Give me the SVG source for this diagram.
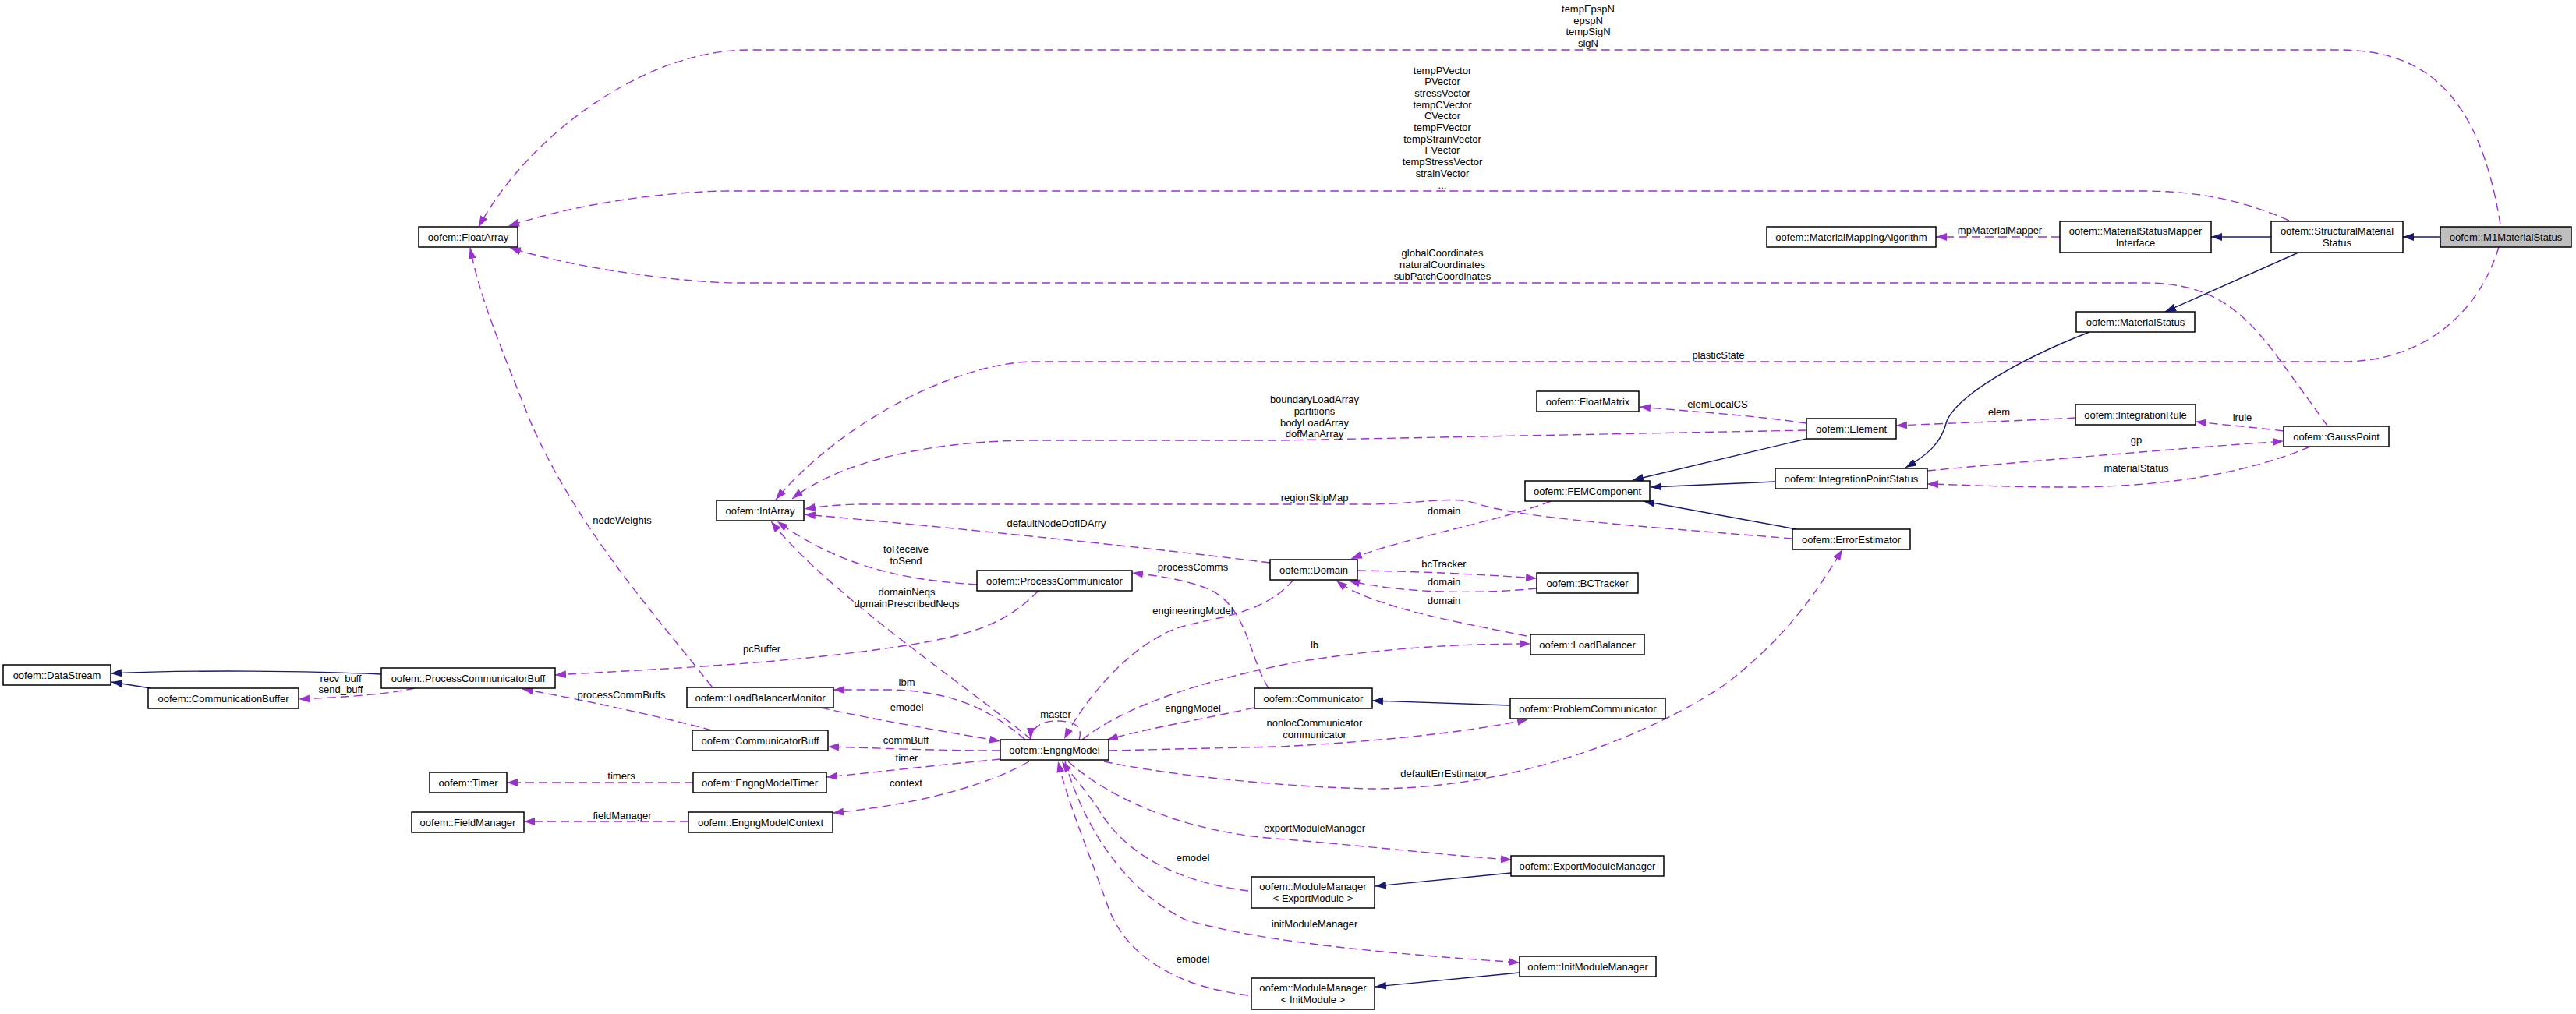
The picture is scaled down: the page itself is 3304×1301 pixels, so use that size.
<svg xmlns="http://www.w3.org/2000/svg" width="3304" height="1301" viewBox="0 0 3304 1301">
<style>
.n rect{fill:#fff;stroke:#000;stroke-width:1.5}
.n rect.main{fill:#bfbfbf}
text{font-family:"Liberation Sans",Arial,sans-serif;font-size:13px;fill:#000;text-anchor:middle}
.e{fill:none;stroke:#9a32cd;stroke-width:1.4;stroke-dasharray:11,6;marker-end:url(#ap)}
.i{fill:none;stroke:#191970;stroke-width:1.4;marker-end:url(#ab)}
</style>
<defs>
<marker id="ap" viewBox="0 0 14 10" refX="14" refY="5" markerWidth="14" markerHeight="10" orient="auto" markerUnits="userSpaceOnUse"><path d="M0,0 L14,5 L0,10 z" fill="#9a32cd"/></marker>
<marker id="ab" viewBox="0 0 14 10" refX="14" refY="5" markerWidth="14" markerHeight="10" orient="auto" markerUnits="userSpaceOnUse"><path d="M0,0 L14,5 L0,10 z" fill="#191970"/></marker>
</defs>
<rect width="3304" height="1301" fill="#fff"/>
<g id="connectors">
<path class="e" d="M3207,288 C3180,120 3110,64 3000,64 L960,64 C830,64 680,170 614,291"/>
<text x="2037" y="16">tempEpspN</text><text x="2037" y="31">epspN</text><text x="2037" y="45">tempSigN</text><text x="2037" y="60">sigN</text>
<path class="e" d="M2936,283 C2880,258 2820,245 2750,245 L935,245 C880,245 760,255 652,290"/>
<text x="1850" y="95">tempPVector</text><text x="1850" y="109">PVector</text><text x="1850" y="124">stressVector</text><text x="1850" y="139">tempCVector</text><text x="1850" y="153">CVector</text><text x="1850" y="168">tempFVector</text><text x="1850" y="183">tempStrainVector</text><text x="1850" y="197">FVector</text><text x="1850" y="212">tempStressVector</text><text x="1850" y="227">strainVector</text><text x="1850" y="242">...</text>
<path class="e" d="M2985,546 L2930,470 C2880,400 2840,363 2750,363 L947,363 C880,363 740,345 654,318"/>
<text x="1850" y="329">globalCoordinates</text><text x="1850" y="344">naturalCoordinates</text><text x="1850" y="359">subPatchCoordinates</text>
<path class="e" d="M913,881 C850,800 740,680 680,540 C640,440 615,380 603,318"/>
<text x="798" y="672">nodeWeights</text>
<path class="e" d="M2642,304 L2483,304"/>
<text x="2565" y="300">mpMaterialMapper</text>
<path class="e" d="M3205,317 C3180,400 3110,464 3005,464 L1328,464 C1230,464 1080,540 995,641"/>
<text x="2204" y="460">plasticState</text>
<path class="e" d="M2317,552 L1640,565 L1328,565 C1200,565 1080,590 1016,640"/>
<text x="1686" y="517">boundaryLoadArray</text><text x="1686" y="532">partitions</text><text x="1686" y="547">bodyLoadArray</text><text x="1686" y="561">dofManArray</text>
<path class="e" d="M2299,691 C2100,675 1950,665 1890,645 C1860,636 1820,647 1750,647 L1100,647 C1070,648 1050,650 1032,653"/>
<text x="1686" y="643">regionSkipMap</text>
<path class="e" d="M1629,722 C1450,700 1200,675 1032,660"/>
<text x="1355" y="676">defaultNodeDofIDArry</text>
<path class="e" d="M1253,750 C1170,745 1080,730 997,669"/>
<text x="1162" y="709">toReceive</text><text x="1162" y="724">toSend</text>
<path class="e" d="M1323,949 C1240,880 1060,760 989,669"/>
<text x="1163" y="764">domainNeqs</text><text x="1163" y="779">domainPrescribedNeqs</text>
<path class="e" d="M1627,883 C1600,840 1600,770 1540,752 C1510,742 1480,738 1452,735"/>
<text x="1530" y="732">processComms</text>
<path class="e" d="M1659,744 C1610,800 1530,790 1490,815 C1440,840 1390,900 1365,948"/>
<text x="1530" y="788">engineeringModel</text>
<path class="e" d="M1332,758 C1290,800 1250,815 1150,830 C1000,852 850,858 712,866"/>
<text x="977" y="837">pcBuffer</text>
<path class="e" d="M532,883 C490,892 430,895 383,897"/>
<text x="437" y="875">recv_buff</text><text x="437" y="889">send_buff</text>
<path class="e" d="M913,937 C870,925 760,900 670,884"/>
<text x="797" y="896">processCommBuffs</text>
<path class="e" d="M1315,949 C1270,910 1220,886 1140,885 L1069,885"/>
<text x="1163" y="880">lbm</text>
<path class="e" d="M1053,908 C1130,925 1220,940 1283,951"/>
<text x="1163" y="912">emodel</text>
<path class="e" d="M1283,963 C1200,963 1130,960 1062,958"/>
<text x="1162" y="954">commBuff</text>
<path class="e" d="M1283,974 C1200,982 1130,990 1060,997"/>
<text x="1163" y="977">timer</text>
<path class="e" d="M1320,977 C1280,1000 1200,1030 1068,1043"/>
<text x="1162" y="1009">context</text>
<path class="e" d="M889,1004 L650,1004"/>
<text x="797" y="1000">timers</text>
<path class="e" d="M883,1054 L672,1054"/>
<text x="798" y="1051">fieldManager</text>
<path class="e" d="M1384,949 C1390,930 1375,925 1354,925 C1335,925 1322,935 1322,948"/>
<text x="1354" y="921">master</text>
<path class="e" d="M1388,949 C1450,900 1560,870 1660,850 C1780,830 1880,826 1963,826"/>
<text x="1686" y="832">lb</text>
<path class="e" d="M1609,908 C1530,925 1470,935 1420,949"/>
<text x="1530" y="913">engngModel</text>
<path class="e" d="M1422,963 L1640,958 C1760,952 1880,940 1960,923"/>
<text x="1686" y="932">nonlocCommunicator</text><text x="1686" y="947">communicator</text>
<path class="e" d="M1416,977 C1500,995 1650,1010 1760,1012 C1950,1012 2120,940 2210,880 C2290,820 2330,760 2363,705"/>
<text x="1852" y="997">defaultErrEstimator</text>
<path class="e" d="M1370,977 C1430,1030 1530,1070 1650,1077 C1780,1088 1880,1100 1939,1103"/>
<text x="1686" y="1067">exportModuleManager</text>
<path class="e" d="M1601,1143 C1500,1130 1440,1090 1410,1040 C1390,1010 1375,995 1362,977"/>
<text x="1530" y="1105">emodel</text>
<path class="e" d="M1366,977 C1390,1060 1440,1140 1520,1180 C1620,1210 1800,1225 1949,1235"/>
<text x="1686" y="1190">initModuleManager</text>
<path class="e" d="M1601,1277 C1500,1265 1440,1220 1420,1160 C1395,1090 1370,1030 1357,977"/>
<text x="1530" y="1235">emodel</text>
<path class="e" d="M2317,543 C2250,533 2170,528 2103,522"/>
<text x="2203" y="523">elemLocalCS</text>
<path class="e" d="M2662,536 C2590,540 2500,543 2432,546"/>
<text x="2564" y="533">elem</text>
<path class="e" d="M2929,553 C2890,548 2850,545 2816,541"/>
<text x="2876" y="540">irule</text>
<path class="e" d="M2472,604 C2620,590 2800,575 2929,566"/>
<text x="2740" y="569">gp</text>
<path class="e" d="M2963,573 C2900,600 2800,625 2650,625 C2570,625 2520,622 2472,621"/>
<text x="2740" y="605">materialStatus</text>
<path class="e" d="M1989,643 C1920,670 1800,690 1733,717"/>
<text x="1852" y="660">domain</text>
<path class="e" d="M1741,732 C1820,733 1900,737 1971,742"/>
<text x="1852" y="728">bcTracker</text>
<path class="e" d="M1971,755 C1900,762 1800,762 1730,745"/>
<text x="1852" y="751">domain</text>
<path class="e" d="M1958,816 C1880,800 1760,780 1714,745"/>
<text x="1852" y="775">domain</text>
<path class="i" d="M3130,304 L3082,304"/>
<path class="i" d="M2913,304 L2836,304"/>
<path class="i" d="M2948,324 L2777,400"/>
<path class="i" d="M2680,426 C2580,465 2510,510 2497,540 C2490,570 2470,585 2444,600"/>
<path class="i" d="M2317,563 L2094,616"/>
<path class="i" d="M2277,618 L2117,625"/>
<path class="i" d="M2304,679 L2108,643"/>
<path class="i" d="M489,865 C400,861 250,859 142,864"/>
<path class="i" d="M193,883 L143,875"/>
<path class="i" d="M1937,905 L1760,899"/>
<path class="i" d="M1938,1120 L1764,1137"/>
<path class="i" d="M1949,1248 L1764,1266"/>
</g>
<g id="n-FloatArray" class="n"><rect x="537" y="291" width="127" height="26"/><text x="600.5" y="308.5">oofem::FloatArray</text></g>
<g id="n-MaterialMappingAlgorithm" class="n"><rect x="2266" y="291" width="217" height="26"/><text x="2374.5" y="308.5">oofem::MaterialMappingAlgorithm</text></g>
<g id="n-MaterialStatusMapperInterface" class="n"><rect x="2642" y="284" width="194" height="40"/><text x="2739" y="300.5">oofem::MaterialStatusMapper</text><text x="2739" y="315.5">Interface</text></g>
<g id="n-StructuralMaterialStatus" class="n"><rect x="2913" y="284" width="169" height="40"/><text x="2997.5" y="300.5">oofem::StructuralMaterial</text><text x="2997.5" y="315.5">Status</text></g>
<g id="n-M1MaterialStatus" class="n"><rect class="main" x="3130" y="291" width="168" height="26"/><text x="3214" y="308.5">oofem::M1MaterialStatus</text></g>
<g id="n-MaterialStatus" class="n"><rect x="2663" y="400" width="152" height="26"/><text x="2739" y="417.5">oofem::MaterialStatus</text></g>
<g id="n-FloatMatrix" class="n"><rect x="1971" y="502" width="131" height="26"/><text x="2036.5" y="519.5">oofem::FloatMatrix</text></g>
<g id="n-Element" class="n"><rect x="2317" y="537" width="115" height="26"/><text x="2374.5" y="554.5">oofem::Element</text></g>
<g id="n-IntegrationRule" class="n"><rect x="2662" y="519" width="154" height="26"/><text x="2739" y="536.5">oofem::IntegrationRule</text></g>
<g id="n-GaussPoint" class="n"><rect x="2929" y="547" width="135" height="26"/><text x="2996.5" y="564.5">oofem::GaussPoint</text></g>
<g id="n-IntegrationPointStatus" class="n"><rect x="2277" y="601" width="195" height="26"/><text x="2374.5" y="618.5">oofem::IntegrationPointStatus</text></g>
<g id="n-FEMComponent" class="n"><rect x="1956" y="617" width="160" height="26"/><text x="2036" y="634.5">oofem::FEMComponent</text></g>
<g id="n-IntArray" class="n"><rect x="919" y="642" width="112" height="26"/><text x="975" y="659.5">oofem::IntArray</text></g>
<g id="n-ErrorEstimator" class="n"><rect x="2299" y="679" width="151" height="26"/><text x="2374.5" y="696.5">oofem::ErrorEstimator</text></g>
<g id="n-ProcessCommunicator" class="n"><rect x="1253" y="732" width="199" height="26"/><text x="1352.5" y="749.5">oofem::ProcessCommunicator</text></g>
<g id="n-Domain" class="n"><rect x="1629" y="718" width="112" height="26"/><text x="1685" y="735.5">oofem::Domain</text></g>
<g id="n-BCTracker" class="n"><rect x="1971" y="735" width="130" height="26"/><text x="2036" y="752.5">oofem::BCTracker</text></g>
<g id="n-LoadBalancer" class="n"><rect x="1963" y="814" width="146" height="26"/><text x="2036" y="831.5">oofem::LoadBalancer</text></g>
<g id="n-DataStream" class="n"><rect x="4" y="853" width="138" height="26"/><text x="73" y="870.5">oofem::DataStream</text></g>
<g id="n-ProcessCommunicatorBuff" class="n"><rect x="489" y="857" width="223" height="26"/><text x="600.5" y="874.5">oofem::ProcessCommunicatorBuff</text></g>
<g id="n-CommunicationBuffer" class="n"><rect x="190" y="883" width="193" height="26"/><text x="286.5" y="900.5">oofem::CommunicationBuffer</text></g>
<g id="n-LoadBalancerMonitor" class="n"><rect x="881" y="882" width="188" height="26"/><text x="975" y="899.5">oofem::LoadBalancerMonitor</text></g>
<g id="n-Communicator" class="n"><rect x="1609" y="883" width="151" height="26"/><text x="1684.5" y="900.5">oofem::Communicator</text></g>
<g id="n-ProblemCommunicator" class="n"><rect x="1937" y="896" width="199" height="26"/><text x="2036.5" y="913.5">oofem::ProblemCommunicator</text></g>
<g id="n-CommunicatorBuff" class="n"><rect x="888" y="937" width="174" height="26"/><text x="975" y="954.5">oofem::CommunicatorBuff</text></g>
<g id="n-EngngModel" class="n"><rect x="1283" y="949" width="139" height="26"/><text x="1352.5" y="966.5">oofem::EngngModel</text></g>
<g id="n-Timer" class="n"><rect x="551" y="991" width="99" height="26"/><text x="600.5" y="1008.5">oofem::Timer</text></g>
<g id="n-EngngModelTimer" class="n"><rect x="889" y="991" width="171" height="26"/><text x="974.5" y="1008.5">oofem::EngngModelTimer</text></g>
<g id="n-FieldManager" class="n"><rect x="528" y="1042" width="144" height="26"/><text x="600" y="1059.5">oofem::FieldManager</text></g>
<g id="n-EngngModelContext" class="n"><rect x="883" y="1042" width="185" height="26"/><text x="975.5" y="1059.5">oofem::EngngModelContext</text></g>
<g id="n-ExportModuleManager" class="n"><rect x="1938" y="1098" width="196" height="26"/><text x="2036" y="1115.5">oofem::ExportModuleManager</text></g>
<g id="n-ModuleManagerExport" class="n"><rect x="1605" y="1125" width="158" height="40"/><text x="1684" y="1141.5">oofem::ModuleManager</text><text x="1684" y="1156.5">&lt; ExportModule &gt;</text></g>
<g id="n-InitModuleManager" class="n"><rect x="1949" y="1227" width="175" height="26"/><text x="2036.5" y="1244.5">oofem::InitModuleManager</text></g>
<g id="n-ModuleManagerInit" class="n"><rect x="1605" y="1255" width="158" height="40"/><text x="1684" y="1271.5">oofem::ModuleManager</text><text x="1684" y="1286.5">&lt; InitModule &gt;</text></g>
</svg>
